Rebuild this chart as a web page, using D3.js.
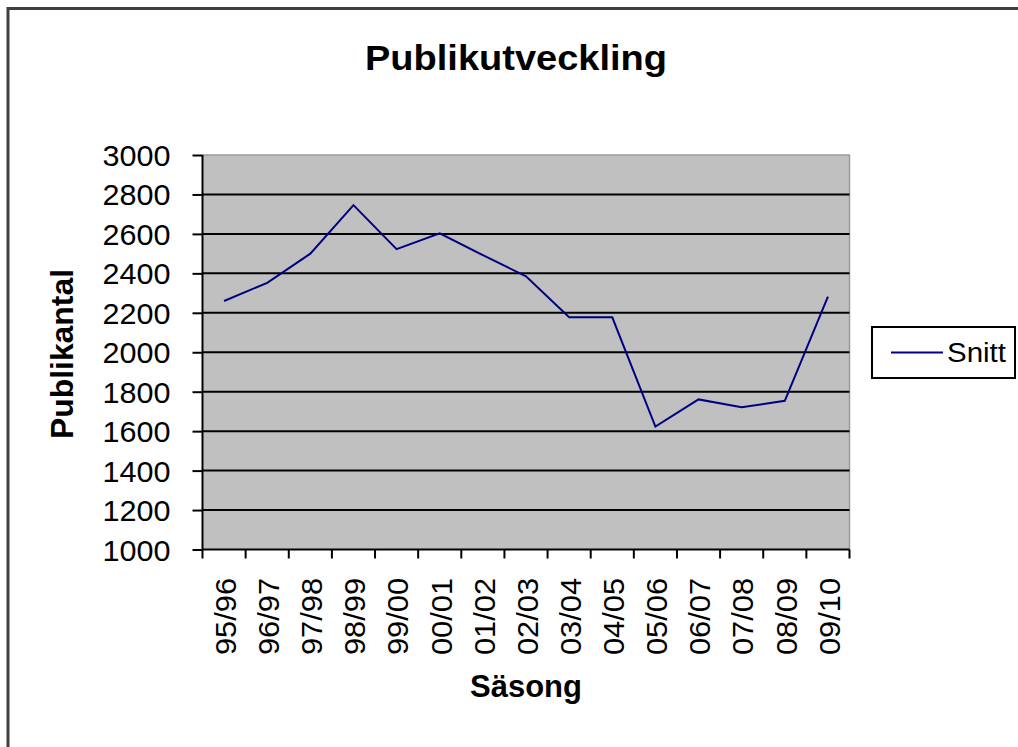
<!DOCTYPE html>
<html>
<head>
<meta charset="utf-8">
<script src="https://cdn.jsdelivr.net/npm/d3@7"></script>
<style>
  html, body { margin: 0; padding: 0; background: #fff; }
  svg { display: block; font-family: "Liberation Sans", Arial, sans-serif; }
</style>
</head>
<body>
<svg id="chart" width="1018" height="747"></svg>
<script>
const seasons = ["95/96","96/97","97/98","98/99","99/00","00/01","01/02","02/03","03/04","04/05","05/06","06/07","07/08","08/09","09/10"];
const snitt = [2260, 2352, 2500, 2746, 2523, 2603, 2492, 2385, 2178, 2177, 1623, 1761, 1721, 1754, 2282];
const yTicks = [1000, 1200, 1400, 1600, 1800, 2000, 2200, 2400, 2600, 2800, 3000];
const seriesName = "Snitt";
const titleText = "Publikutveckling";
const xTitle = "Säsong";
const yTitle = "Publikantal";

const svg = d3.select("#chart");

// outer frame
svg.append("rect").attr("x", 8).attr("y", 8.5).attr("width", 1030).attr("height", 760)
  .attr("fill", "#fff").attr("stroke", "#404040").attr("stroke-width", 3);

const L = 202.5, R = 849.5, T = 155, B = 549.5;
const x = d3.scaleBand().domain(seasons).range([L, R]).padding(0);
const y = d3.scaleLinear().domain([1000, 3000]).range([B, T]);

// plot area
svg.append("rect").attr("x", L).attr("y", T).attr("width", R - L).attr("height", B - T)
  .attr("fill", "#c0c0c0");
// top/right light border
svg.append("path").attr("d", `M${L},${T}H${R}V${B}`).attr("fill", "none")
  .attr("stroke", "#9a9a9a").attr("stroke-width", 1.5);

// gridlines
svg.append("g").selectAll("line").data(yTicks.filter(d => d > 1000 && d < 3000)).join("line")
  .attr("x1", L).attr("x2", R).attr("y1", d => y(d)).attr("y2", d => y(d))
  .attr("stroke", "#000").attr("stroke-width", 2);

// y axis
const yAxis = svg.append("g").attr("transform", `translate(${L},0)`)
  .call(d3.axisLeft(y).tickValues(yTicks).tickSize(10).tickPadding(22).tickFormat(d3.format("d")));
yAxis.select(".domain").attr("stroke", "#000").attr("stroke-width", 2).attr("d", `M0,${T}V${B}`);
yAxis.selectAll(".tick line").attr("stroke", "#000").attr("stroke-width", 2);
yAxis.selectAll(".tick text").attr("font-size", 30).attr("fill", "#000")
  .attr("font-family", "Liberation Sans, Arial, sans-serif")
  .attr("textLength", 68).attr("lengthAdjust", "spacingAndGlyphs").attr("x", -32).attr("dy", "0.35em");

// x axis
const boundaries = seasons.map(s => x(s)).concat([R]);
svg.append("line").attr("x1", L).attr("x2", R).attr("y1", B).attr("y2", B)
  .attr("stroke", "#000").attr("stroke-width", 2);
svg.append("g").selectAll("line").data(boundaries).join("line")
  .attr("x1", d => d).attr("x2", d => d).attr("y1", B).attr("y2", B + 9)
  .attr("stroke", "#000").attr("stroke-width", 2);
svg.append("g").selectAll("text").data(seasons).join("text")
  .attr("transform", d => `translate(${x(d) + x.bandwidth() / 2 + 1},578) rotate(-90)`)
  .attr("text-anchor", "end").attr("dy", "0.36em")
  .attr("font-size", 30).attr("fill", "#000")
  .attr("textLength", 77).attr("lengthAdjust", "spacingAndGlyphs")
  .text(d => d);

// line
const line = d3.line().x((d, i) => x(seasons[i]) + x.bandwidth() / 2).y(d => y(d));
svg.append("path").datum(snitt).attr("d", line).attr("fill", "none")
  .attr("stroke", "#000080").attr("stroke-width", 2);

// title
svg.append("text").attr("x", 516).attr("y", 70).attr("text-anchor", "middle")
  .attr("font-size", 35).attr("font-weight", "bold").attr("fill", "#000")
  .attr("textLength", 302).attr("lengthAdjust", "spacingAndGlyphs").text(titleText);

// axis titles
svg.append("text").attr("x", 526).attr("y", 697).attr("text-anchor", "middle")
  .attr("font-size", 31).attr("font-weight", "bold").attr("fill", "#000")
  .attr("textLength", 112).attr("lengthAdjust", "spacingAndGlyphs").text(xTitle);
svg.append("text").attr("transform", "translate(73,354) rotate(-90)").attr("text-anchor", "middle")
  .attr("font-size", 32).attr("font-weight", "bold").attr("fill", "#000")
  .attr("textLength", 170).attr("lengthAdjust", "spacingAndGlyphs").text(yTitle);

// legend
const lg = svg.append("g");
lg.append("rect").attr("x", 872).attr("y", 327).attr("width", 143).attr("height", 51)
  .attr("fill", "#fff").attr("stroke", "#000").attr("stroke-width", 2);
lg.append("line").attr("x1", 891).attr("x2", 943).attr("y1", 352.5).attr("y2", 352.5)
  .attr("stroke", "#000080").attr("stroke-width", 2);
lg.append("text").attr("x", 947).attr("y", 352.5).attr("dy", "0.36em")
  .attr("font-size", 27).attr("fill", "#000")
  .attr("textLength", 59).attr("lengthAdjust", "spacingAndGlyphs").text(seriesName);
</script>
</body>
</html>
